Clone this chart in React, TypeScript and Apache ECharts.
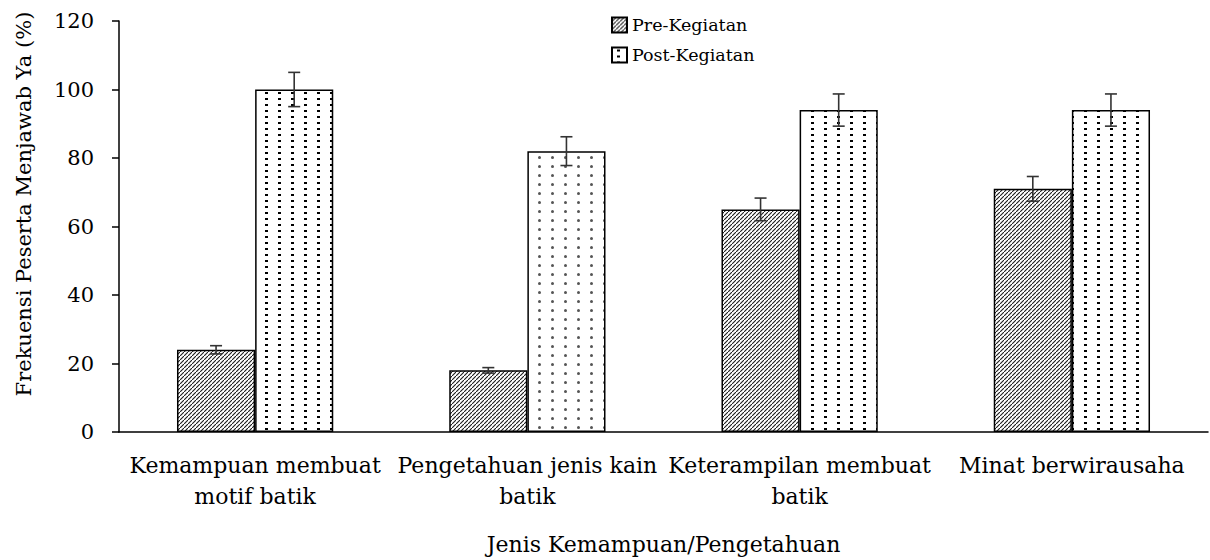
import React, { useEffect, useRef } from "react";
import * as echarts from "echarts";

const categories = [
  "Kemampuan membuat\nmotif batik",
  "Pengetahuan jenis kain\nbatik",
  "Keterampilan membuat\nbatik",
  "Minat berwirausaha",
];
const preValues = [24, 18, 65, 71];
const preErrors = [1.2, 0.8, 3.3, 3.6];
const postValues = [100, 82, 94, 94];
const postErrors = [5, 4.2, 4.7, 4.7];
const seriesNames = ["Pre-Kegiatan", "Post-Kegiatan"];
const yTicks = { min: 0, max: 120, interval: 20 };

const FONT = "DejaVu Serif";
const BAR_PCT = 0.287;

function makeHatch() {
  const c = document.createElement("canvas");
  c.width = 4;
  c.height = 4;
  const g = c.getContext("2d")!;
  g.fillStyle = "#fff";
  g.fillRect(0, 0, 4, 4);
  g.strokeStyle = "#1a1a1a";
  g.lineWidth = 1.1;
  g.beginPath();
  g.moveTo(-1, 5);
  g.lineTo(5, -1);
  g.stroke();
  return { image: c, repeat: "repeat" };
}

function makeDots() {
  const c = document.createElement("canvas");
  c.width = 13;
  c.height = 6;
  const g = c.getContext("2d")!;
  g.fillStyle = "#fff";
  g.fillRect(0, 0, 13, 6);
  g.fillStyle = "#000";
  g.fillRect(5, 2, 3, 2);
  return { image: c, repeat: "repeat" };
}

function makeGreyDots() {
  const c = document.createElement("canvas");
  c.width = 13;
  c.height = 9;
  const g = c.getContext("2d")!;
  g.fillStyle = "#fff";
  g.fillRect(0, 0, 13, 9);
  g.fillStyle = "#555";
  g.beginPath();
  g.arc(6.5, 4.5, 1.5, 0, Math.PI * 2);
  g.fill();
  return { image: c, repeat: "repeat" };
}

function errorSeries(values: number[], errs: number[], offset: number) {
  return {
    type: "custom",
    silent: true,
    z: 5,
    data: values.map((v, i) => [i, v - errs[i], v + errs[i]]),
    renderItem: (params: any, api: any) => {
      const idx = api.value(0);
      const lo = api.coord([idx, api.value(1)]);
      const hi = api.coord([idx, api.value(2)]);
      const band = api.size([1, 0])[0];
      const cx = lo[0] + offset * band;
      const cap = 6;
      const st = { stroke: "#333", lineWidth: 1.6 };
      return {
        type: "group",
        children: [
          { type: "line", shape: { x1: cx, y1: lo[1], x2: cx, y2: hi[1] }, style: st },
          { type: "line", shape: { x1: cx - cap, y1: lo[1], x2: cx + cap, y2: lo[1] }, style: st },
          { type: "line", shape: { x1: cx - cap, y1: hi[1], x2: cx + cap, y2: hi[1] }, style: st },
        ],
      };
    },
  };
}

export default function App() {
  const ref = useRef<HTMLDivElement>(null);
  useEffect(() => {
    if (!ref.current) return;
    const chart = echarts.init(ref.current, null, { renderer: "svg" });
    const hatch = makeHatch();
    const dots = makeDots();
    const grey = makeGreyDots();
    const border = { borderColor: "#000", borderWidth: 1.5 };
    chart.setOption({
      animation: false,
      textStyle: { fontFamily: FONT, color: "#000" },
      grid: { left: 119, right: 2, top: 21, bottom: 126, containLabel: false },
      legend: {
        orient: "vertical",
        left: 606,
        top: 11,
        itemWidth: 15,
        itemHeight: 15,
        itemGap: 12,
        icon: "rect",
        data: seriesNames,
        textStyle: { fontFamily: FONT, fontSize: 17.5, color: "#000" },
      },
      xAxis: {
        type: "category",
        data: categories,
        name: "Jenis Kemampuan/Pengetahuan",
        nameLocation: "middle",
        nameGap: 101,
        nameTextStyle: { fontFamily: FONT, fontSize: 22, color: "#000" },
        axisLine: { lineStyle: { color: "#000", width: 1.5 } },
        axisTick: { show: false },
        axisLabel: {
          interval: 0,
          margin: 18,
          fontFamily: FONT,
          fontSize: 22,
          lineHeight: 31,
          color: "#000",
        },
      },
      yAxis: {
        type: "value",
        min: yTicks.min,
        max: yTicks.max,
        interval: yTicks.interval,
        splitLine: { show: false },
        axisLine: { show: true, lineStyle: { color: "#000", width: 1.5 } },
        axisTick: { show: true, length: 7, lineStyle: { color: "#000", width: 1.5 } },
        axisLabel: { margin: 25, fontFamily: FONT, fontSize: 21, color: "#000" },
      },
      graphic: [
        {
          type: "text",
          x: 24,
          y: 204,
          rotation: Math.PI / 2,
          style: {
            text: "Frekuensi Peserta Menjawab Ya (%)",
            font: `21px "${FONT}"`,
            fill: "#000",
            align: "center",
            verticalAlign: "middle",
          },
        },
      ],
      series: [
        {
          name: seriesNames[0],
          type: "bar",
          barWidth: BAR_PCT * 100 + "%",
          barGap: "0%",
          data: preValues,
          itemStyle: { color: hatch, ...border },
        },
        {
          name: seriesNames[1],
          type: "bar",
          barWidth: BAR_PCT * 100 + "%",
          barGap: "0%",
          data: postValues.map((v, i) =>
            i === 1 ? { value: v, itemStyle: { color: grey, ...border } } : v
          ),
          itemStyle: { color: dots, ...border },
        },
        errorSeries(preValues, preErrors, -BAR_PCT / 2),
        errorSeries(postValues, postErrors, BAR_PCT / 2),
      ],
    });
    return () => chart.dispose();
  }, []);
  return (
    <div
      ref={ref}
      style={{ position: "absolute", left: 0, top: 0, width: 1210, height: 560, background: "#fff" }}
    />
  );
}
